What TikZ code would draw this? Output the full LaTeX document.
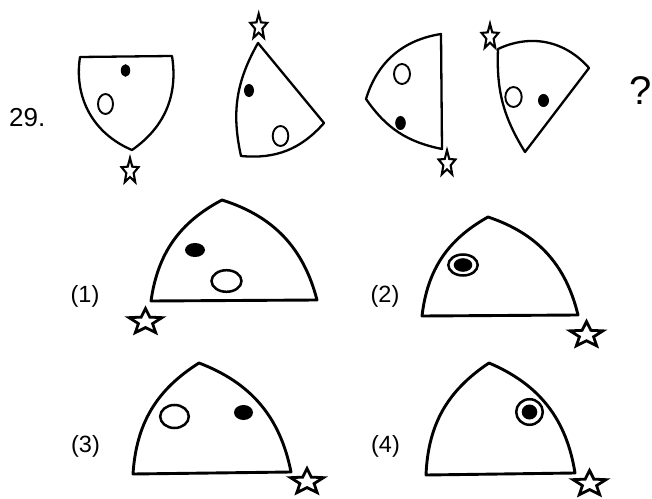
\documentclass[tikz,border=0pt]{standalone}
\usepackage{fontspec}
\setmainfont{Liberation Sans}
\newcommand\drawstarshape[5]{%
  \draw[starline, line width=#5, shift={(#1,#2)}, xscale=#3, yscale=#4]
    (90:1) -- (126:0.43) -- (162:1) -- (198:0.43) -- (234:1) -- (270:0.43)
    -- (306:1) -- (342:0.43) -- (18:1) -- (54:0.43) -- cycle;}
\begin{document}
\begin{tikzpicture}[x=1pt,y=1pt,
  shapethin/.style={draw=black, line width=2.3pt, line join=round},
  shapethick/.style={draw=black, line width=2.9pt, line join=round},
  blackdot/.style={fill=black},
  opensmall/.style={draw=black, line width=1.9pt, fill=white},
  openbig/.style={draw=black, line width=2.5pt, fill=white},
  starline/.style={draw=black, fill=white, line join=miter},
  lbl/.style={inner sep=0pt, font=\fontsize{23.5}{28}\selectfont}
]
\useasboundingbox (0,0) rectangle (652,498);

% ---------- question row ----------
% figure 1
\draw[shapethin] (172,442) to[bend left=32] (132,348) to[bend left=38] (80,441) -- cycle;
\fill[blackdot] (125.5,427.5) ellipse [x radius=4.7, y radius=6.3];
\draw[opensmall] (105.5,394) ellipse [x radius=7.5, y radius=10];
\drawstarshape{130}{326.7}{8.9}{13.3}{2.1pt}
% figure 2
\draw[shapethin] (324,375) to[bend left=27] (241,342) to[bend left=21] (258,455) -- cycle;
\fill[blackdot] (249,407.5) ellipse [x radius=5, y radius=6.5];
\draw[opensmall] (280.5,362) ellipse [x radius=7.8, y radius=10];
\drawstarshape{258.7}{471}{8.9}{13.3}{2.1pt}
% figure 3
\draw[shapethin] (442,349) to[bend left=22] (366,399) to[bend left=32] (441,464) -- cycle;
\draw[opensmall] (402,424) ellipse [x radius=8, y radius=10];
\fill[blackdot] (400.5,375) ellipse [x radius=5.3, y radius=7];
\drawstarshape{447}{334.4}{8.9}{13.3}{2.1pt}
% figure 4
\draw[shapethin] (525,346) to[bend left=17] (498,449) to[bend left=37] (589,430) -- cycle;
\draw[opensmall] (513.5,401) ellipse [x radius=8.2, y radius=10];
\fill[blackdot] (543.5,397.5) ellipse [x radius=5.5, y radius=6.5];
\drawstarshape{490}{461}{8.9}{13.3}{2.1pt}

\node[anchor=base west, inner sep=0pt, font=\fontsize{26}{30}\selectfont] (qnum) at (9,371) {29.};
\node[anchor=base east, inner sep=0pt, font=\fontsize{40}{48}\selectfont] (qmark) at (652,393) {?};

% ---------- answer options ----------
% option 1
\draw[shapethick] (151,197) to[bend left=27] (222,298) to[bend left=29] (317,198) -- cycle;
\fill[blackdot] (195,248) ellipse [x radius=10, y radius=7];
\draw[openbig] (226.5,217) ellipse [x radius=15, y radius=10.8];
\drawstarshape{145.5}{176.2}{17.3}{13.4}{2.8pt}
\node[lbl] (l1) at (85,202) {(1)};
% option 2
\draw[shapethick] (422,182) to[bend left=27] (488,281) to[bend left=29] (578,183) -- cycle;
\draw[openbig] (463,233) ellipse [x radius=14.7, y radius=10.5];
\fill[blackdot] (463,233) ellipse [x radius=9.3, y radius=6.8];
\drawstarshape{586.5}{163}{17.3}{13.4}{2.8pt}
\node[lbl] (l2) at (385,202) {(2)};
% option 3
\draw[shapethick] (133,24) to[bend left=27] (199,135) to[bend left=29] (291,26) -- cycle;
\draw[openbig] (174.5,81.5) ellipse [x radius=14.3, y radius=11.5];
\fill[blackdot] (243.5,85.5) ellipse [x radius=9.5, y radius=7.5];
\drawstarshape{307}{16.2}{17.3}{13.4}{2.8pt}
\node[lbl] (l3) at (85.5,52) {(3)};
% option 4
\draw[shapethick] (426,23) to[bend left=27] (489,135) to[bend left=29] (575,25) -- cycle;
\draw[openbig] (529.5,86) ellipse [x radius=13.3, y radius=12.8];
\fill[blackdot] (529.5,86) ellipse [x radius=7.8, y radius=7.5];
\drawstarshape{589.5}{14.2}{17.3}{13.4}{2.8pt}
\node[lbl] (l4) at (385.5,52) {(4)};
\end{tikzpicture}
\end{document}
